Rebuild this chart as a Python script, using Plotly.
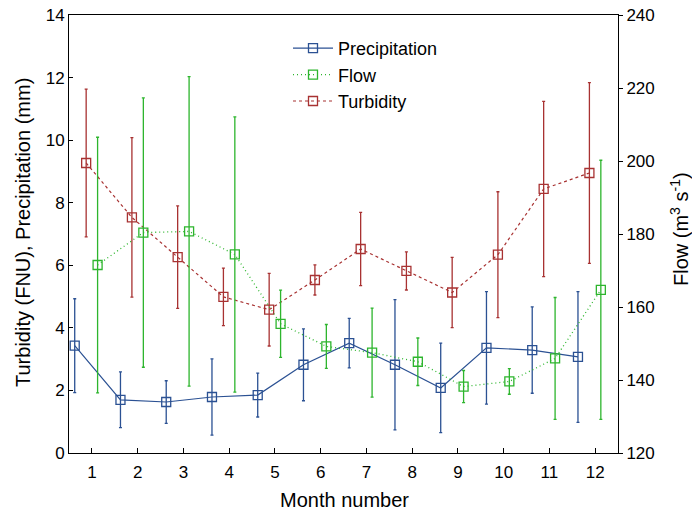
import plotly.graph_objects as go

months = list(range(1, 13))
precip = [3.43, 1.70, 1.63, 1.79, 1.85, 2.82, 3.51, 2.82, 2.08, 3.36, 3.29, 3.07]
precip_err = [1.50, 0.89, 0.68, 1.22, 0.70, 1.15, 0.79, 2.08, 1.43, 1.80, 1.38, 2.09]
turb = [9.27, 7.53, 6.26, 4.99, 4.58, 5.53, 6.52, 5.82, 5.13, 6.34, 8.44, 8.95]
turb_err = [2.36, 2.55, 1.64, 0.92, 1.16, 0.48, 1.17, 0.61, 1.12, 2.01, 2.80, 2.89]
flow = [171.5, 180.4, 180.7, 174.4, 155.4, 149.2, 147.5, 145.0, 138.2, 139.6, 145.9, 164.7]
flow_err = [35.0, 36.9, 42.4, 37.7, 9.2, 6.0, 12.2, 6.5, 4.4, 3.5, 16.7, 35.5]

C_P = "#2b5193"
C_F = "#2db52d"
C_T = "#a83232"
FONT = "Liberation Sans, Arial, sans-serif"

W, H = 692, 511
L, R, T, B = 69, 74, 15, 58
PW = W - L - R
PH = H - T - B

def px(a):  # window x -> paper x
    return (a - L) / PW

def py(a):  # window y -> paper y
    return (H - B - a) / PH

def shift(vals, d):
    return [v + d for v in vals]

fig = go.Figure()
fig.add_trace(go.Scatter(
    x=shift(months, -0.375), y=precip, name="Precipitation", mode="lines+markers",
    line=dict(color=C_P, width=1.2),
    marker=dict(symbol="square-open", size=9, color=C_P, line=dict(width=1.3)),
    error_y=dict(type="data", array=precip_err, color=C_P, thickness=1.3, width=1.5),
))
fig.add_trace(go.Scatter(
    x=shift(months, 0.125), y=flow, name="Flow", mode="lines+markers", yaxis="y2",
    line=dict(color=C_F, width=1.3, dash="1px,3px"),
    marker=dict(symbol="square-open", size=9, color=C_F, line=dict(width=1.3)),
    error_y=dict(type="data", array=flow_err, color=C_F, thickness=1.3, width=1.5),
))
fig.add_trace(go.Scatter(
    x=shift(months, -0.125), y=turb, name="Turbidity", mode="lines+markers",
    line=dict(color=C_T, width=1.2, dash="3px,3px"),
    marker=dict(symbol="square-open", size=9, color=C_T, line=dict(width=1.3)),
    error_y=dict(type="data", array=turb_err, color=C_T, thickness=1.3, width=1.5),
))

fig.update_layout(
    width=W, height=H,
    margin=dict(l=L, r=R, t=T, b=B, autoexpand=False),
    paper_bgcolor="white", plot_bgcolor="white",
    font=dict(family=FONT, size=17, color="black"),
    showlegend=True,
    legend=dict(x=px(288), y=py(30), xanchor="left", yanchor="top",
                bgcolor="rgba(0,0,0,0)", font=dict(size=18), tracegroupgap=0,
                itemwidth=40),
    xaxis=dict(range=[0.5, 12.5], tickvals=months, ticktext=[str(m) for m in months],
               showgrid=False, zeroline=False, showline=True, linecolor="black",
               linewidth=1, mirror=True, ticks="inside", ticklen=5, tickcolor="black",
               automargin=False, ticklabeloverflow="allow", ticklabelstandoff=4),
    yaxis=dict(range=[0, 14], dtick=2, showgrid=False, zeroline=False, showline=True,
               linecolor="black", linewidth=1, ticks="inside", ticklen=4, tickcolor="black",
               automargin=False, ticklabeloverflow="allow"),
    yaxis2=dict(range=[120, 240], dtick=20, overlaying="y", side="right", showgrid=False,
                zeroline=False, showline=True, linecolor="black", linewidth=1,
                ticks="outside", ticklen=4, tickcolor="black", automargin=False,
                ticklabeloverflow="allow"),
    annotations=[
        dict(text="Month number", xref="paper", yref="paper", x=px(344), y=py(500),
             xanchor="center", yanchor="middle", showarrow=False, font=dict(size=20)),
        dict(text="Turbidity (FNU), Precipitation (mm)", textangle=-90,
             xref="paper", yref="paper", x=px(23), y=py(233),
             xanchor="center", yanchor="middle", showarrow=False, font=dict(size=20)),
        dict(text="Flow (m<sup>3</sup> s<sup>-1</sup>)", textangle=-90,
             xref="paper", yref="paper", x=px(679), y=py(229),
             xanchor="center", yanchor="middle", showarrow=False, font=dict(size=20)),
    ],
)

fig.write_html("out.html", config={"displayModeBar": False},
               post_script="document.body.style.margin='0';document.body.style.overflow='hidden';")
